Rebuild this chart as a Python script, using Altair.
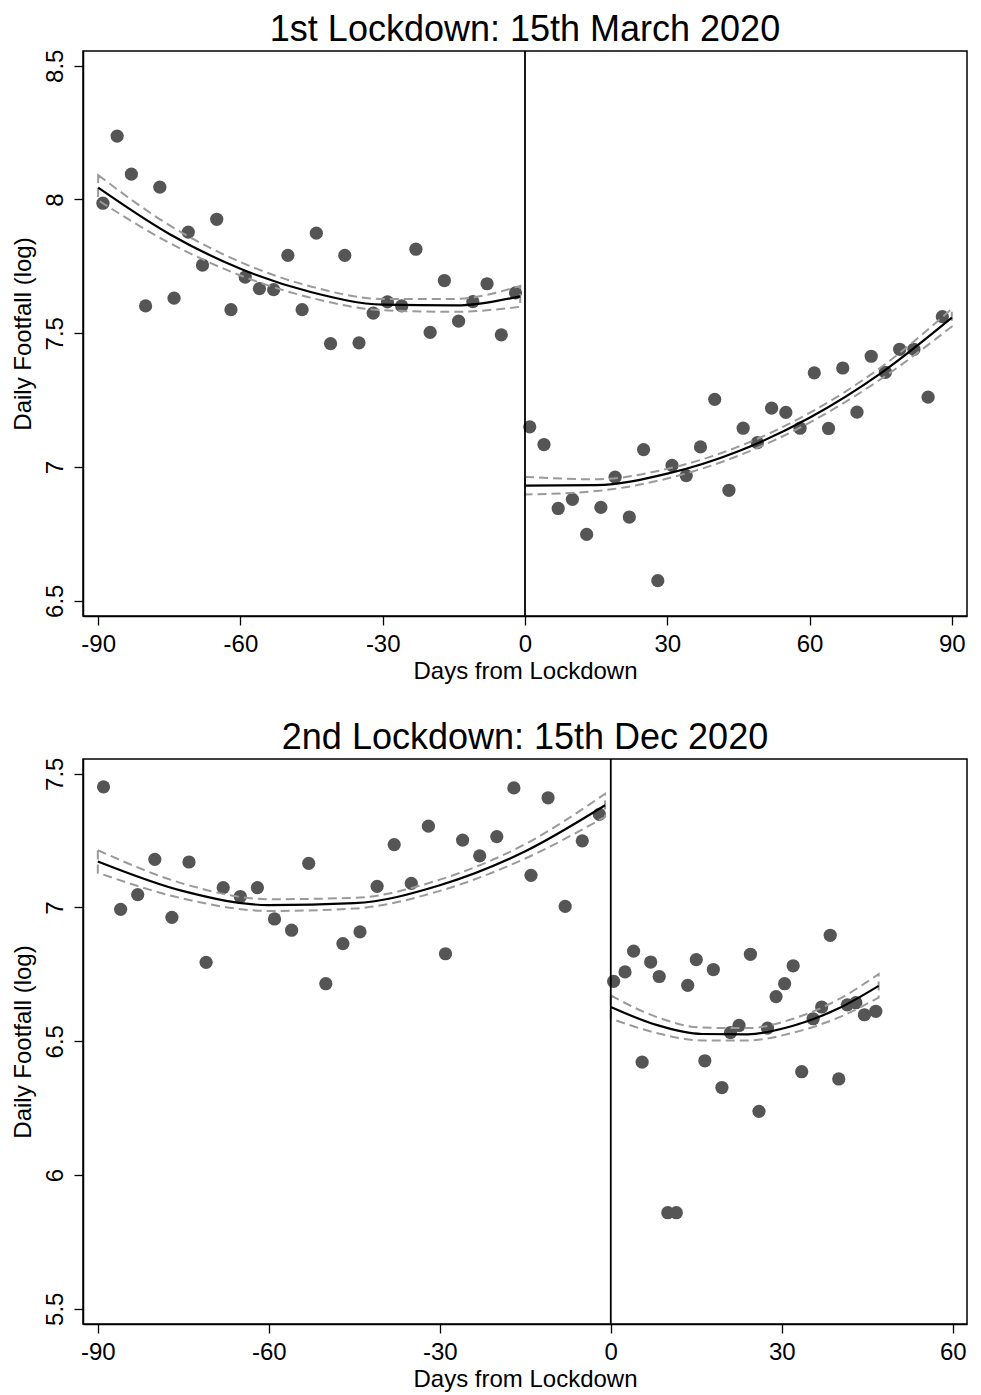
import altair as alt
import pandas as pd

# ---------------- data ----------------
top_pre_days = [-89, -86, -83, -80, -77, -74, -71, -68, -65, -62, -59, -56, -53, -50, -47,
                -44, -41, -38, -35, -32, -29, -26, -23, -20, -17, -14, -11, -8, -5, -2]
top_pre_vals = [7.986, 8.237, 8.095, 7.602, 8.046, 7.631, 7.878, 7.755, 7.926, 7.588,
                7.710, 7.667, 7.663, 7.791, 7.588, 7.874, 7.461, 7.791, 7.464, 7.575,
                7.617, 7.602, 7.814, 7.503, 7.697, 7.545, 7.618, 7.685, 7.494, 7.651]
top_post_days = [1, 4, 7, 10, 13, 16, 19, 22, 25, 28, 31, 34, 37, 40, 43,
                 46, 49, 52, 55, 58, 61, 64, 67, 70, 73, 76, 79, 82, 85, 88]
top_post_vals = [7.150, 7.084, 6.845, 6.879, 6.748, 6.849, 6.962, 6.813, 7.065, 6.575,
                 7.006, 6.968, 7.075, 7.253, 6.913, 7.145, 7.091, 7.220, 7.204, 7.145,
                 7.352, 7.144, 7.370, 7.205, 7.414, 7.354, 7.440, 7.440, 7.261, 7.562]

bot_pre_days = [-89, -86, -83, -80, -77, -74, -71, -68, -65, -62, -59, -56, -53, -50, -47,
                -44, -41, -38, -35, -32, -29, -26, -23, -20, -17, -14, -11, -8, -5, -2]
bot_pre_vals = [7.451, 6.993, 7.048, 7.180, 6.963, 7.170, 6.795, 7.074, 7.041, 7.074,
                6.957, 6.915, 7.165, 6.715, 6.865, 6.909, 7.079, 7.235, 7.090, 7.304,
                6.827, 7.252, 7.193, 7.265, 7.447, 7.120, 7.410, 7.004, 7.249, 7.348]
bot_post_days = [0.5, 2.5, 4.0, 5.5, 7.0, 8.5, 10.0, 11.5, 13.5, 15.0, 16.5, 18.0, 19.5, 21.0, 22.5,
                 24.5, 26.0, 27.5, 29.0, 30.5, 32.0, 33.5, 35.5, 37.0, 38.5, 40.0, 41.5, 43.0, 44.5, 46.5]
bot_post_vals = [6.724, 6.759, 6.837, 6.422, 6.796, 6.742, 5.859, 5.859, 6.709, 6.805,
                 6.427, 6.768, 6.327, 6.532, 6.559, 6.825, 6.238, 6.549, 6.667, 6.715,
                 6.782, 6.386, 6.584, 6.628, 6.896, 6.359, 6.636, 6.644, 6.599, 6.612]

# fitted quadratic and its confidence band
top_pre_fit_x = [-90, -75, -60, -45, -30, -15, -1]
top_pre_fit = [8.044, 7.871, 7.741, 7.653, 7.607, 7.604, 7.638]
top_pre_hi = [8.091, 7.904, 7.766, 7.674, 7.628, 7.628, 7.677]
top_pre_lo = [7.997, 7.838, 7.716, 7.632, 7.586, 7.580, 7.599]

top_post_fit_x = [0, 15, 30, 45, 60, 75, 90]
top_post_fit = [6.930, 6.932, 6.975, 7.059, 7.184, 7.350, 7.558]
top_post_hi = [6.963, 6.954, 6.993, 7.076, 7.202, 7.372, 7.591]
top_post_lo = [6.897, 6.910, 6.957, 7.042, 7.166, 7.328, 7.525]

bot_pre_fit_x = [-90, -75, -60, -45, -30, -15, -1]
bot_pre_fit = [7.172, 7.061, 7.009, 7.016, 7.083, 7.210, 7.382]
bot_pre_hi = [7.214, 7.089, 7.031, 7.036, 7.104, 7.237, 7.425]
bot_pre_lo = [7.130, 7.033, 6.987, 6.996, 7.062, 7.183, 7.339]

bot_post_fit_x = [0, 8, 16, 24, 32, 40, 47]
bot_post_fit = [6.628, 6.561, 6.527, 6.526, 6.558, 6.623, 6.707]
bot_post_hi = [6.671, 6.591, 6.551, 6.549, 6.584, 6.657, 6.751]
bot_post_lo = [6.585, 6.531, 6.503, 6.503, 6.532, 6.589, 6.663]

top_x_ticks = [-90, -60, -30, 0, 30, 60, 90]
top_y_ticks = [6.5, 7, 7.5, 8, 8.5]
bot_x_ticks = [-90, -60, -30, 0, 30, 60]
bot_y_ticks = [5.5, 6, 6.5, 7, 7.5]

FONT = "Liberation Sans"


def panel(title, pre_d, pre_v, post_d, post_v, fits, xdom, xticks, ydom, yticks):
    pts = pd.DataFrame({"day": pre_d + post_d, "val": pre_v + post_v})
    rows = []
    for seg, (fx, fy, hi, lo) in enumerate(fits):
        for a, b, c, d in zip(fx, fy, hi, lo):
            rows.append({"day": a, "fit": b, "hi": c, "lo": d, "seg": seg})
    fdf = pd.DataFrame(rows)

    xs = alt.Scale(domain=xdom, nice=False, zero=False)
    ys = alt.Scale(domain=ydom, nice=False, zero=False)
    xax = alt.Axis(values=xticks, title="Days from Lockdown", grid=False,
                   labelExpr="datum.value < 0 ? '-' + abs(datum.value) : '' + datum.value")
    yax = alt.Axis(values=yticks, format=".1~f", title="Daily Footfall (log)", grid=False,
                   labelAngle=270, labelAlign="center", labelBaseline="bottom")

    points = alt.Chart(pts).mark_circle(size=175, color="#555555", opacity=1).encode(
        x=alt.X("day:Q", scale=xs, axis=xax),
        y=alt.Y("val:Q", scale=ys, axis=yax),
    )
    band = alt.Chart(fdf).mark_area(
        fillOpacity=0, fill="white", stroke="#9a9a9a", strokeWidth=2,
        strokeDash=[9, 5], interpolate="monotone"
    ).encode(
        x=alt.X("day:Q", scale=xs),
        y=alt.Y("hi:Q", scale=ys),
        y2="lo:Q",
        detail="seg:N",
    )
    line = alt.Chart(fdf).mark_line(color="black", strokeWidth=2.2, interpolate="monotone").encode(
        x=alt.X("day:Q", scale=xs),
        y=alt.Y("fit:Q", scale=ys),
        detail="seg:N",
    )
    rule = alt.Chart(pd.DataFrame({"z": [0]})).mark_rule(color="black", strokeWidth=1.8).encode(
        x=alt.X("z:Q", scale=xs)
    )
    return alt.layer(points, band, line, rule).properties(
        width=884, height=565,
        title=alt.TitleParams(title, fontSize=36, font=FONT, fontWeight="normal",
                              color="black", offset=0, anchor="middle"),
    )


top = panel("1st Lockdown: 15th March 2020", top_pre_days, top_pre_vals, top_post_days, top_post_vals,
            [(top_pre_fit_x, top_pre_fit, top_pre_hi, top_pre_lo),
             (top_post_fit_x, top_post_fit, top_post_hi, top_post_lo)],
            [-93.2, 93.2], top_x_ticks, [6.443, 8.555], top_y_ticks)
bot = panel("2nd Lockdown: 15th Dec 2020", bot_pre_days, bot_pre_vals, bot_post_days, bot_post_vals,
            [(bot_pre_fit_x, bot_pre_fit, bot_pre_hi, bot_pre_lo),
             (bot_post_fit_x, bot_post_fit, bot_post_hi, bot_post_lo)],
            [-92.6, 62.5], bot_x_ticks, [5.443, 7.555], bot_y_ticks)

chart = alt.vconcat(top, bot, spacing=35).properties(
    padding={"left": 2, "top": 3, "right": 0, "bottom": 0}
).configure(
    font=FONT,
).configure_view(
    stroke="black", strokeWidth=1.5
).configure_axis(
    labelFont=FONT, titleFont=FONT, labelFontSize=24, titleFontSize=24,
    labelColor="black", titleColor="black", titleFontWeight="normal",
    domainColor="black", domainWidth=1.5, tickColor="black", tickWidth=1.3,
    tickSize=9, labelPadding=7,
).configure_axisX(
    titlePadding=3
).configure_axisY(
    titlePadding=8
)

chart.save("out.html", embed_options={"renderer": "svg", "actions": False})
